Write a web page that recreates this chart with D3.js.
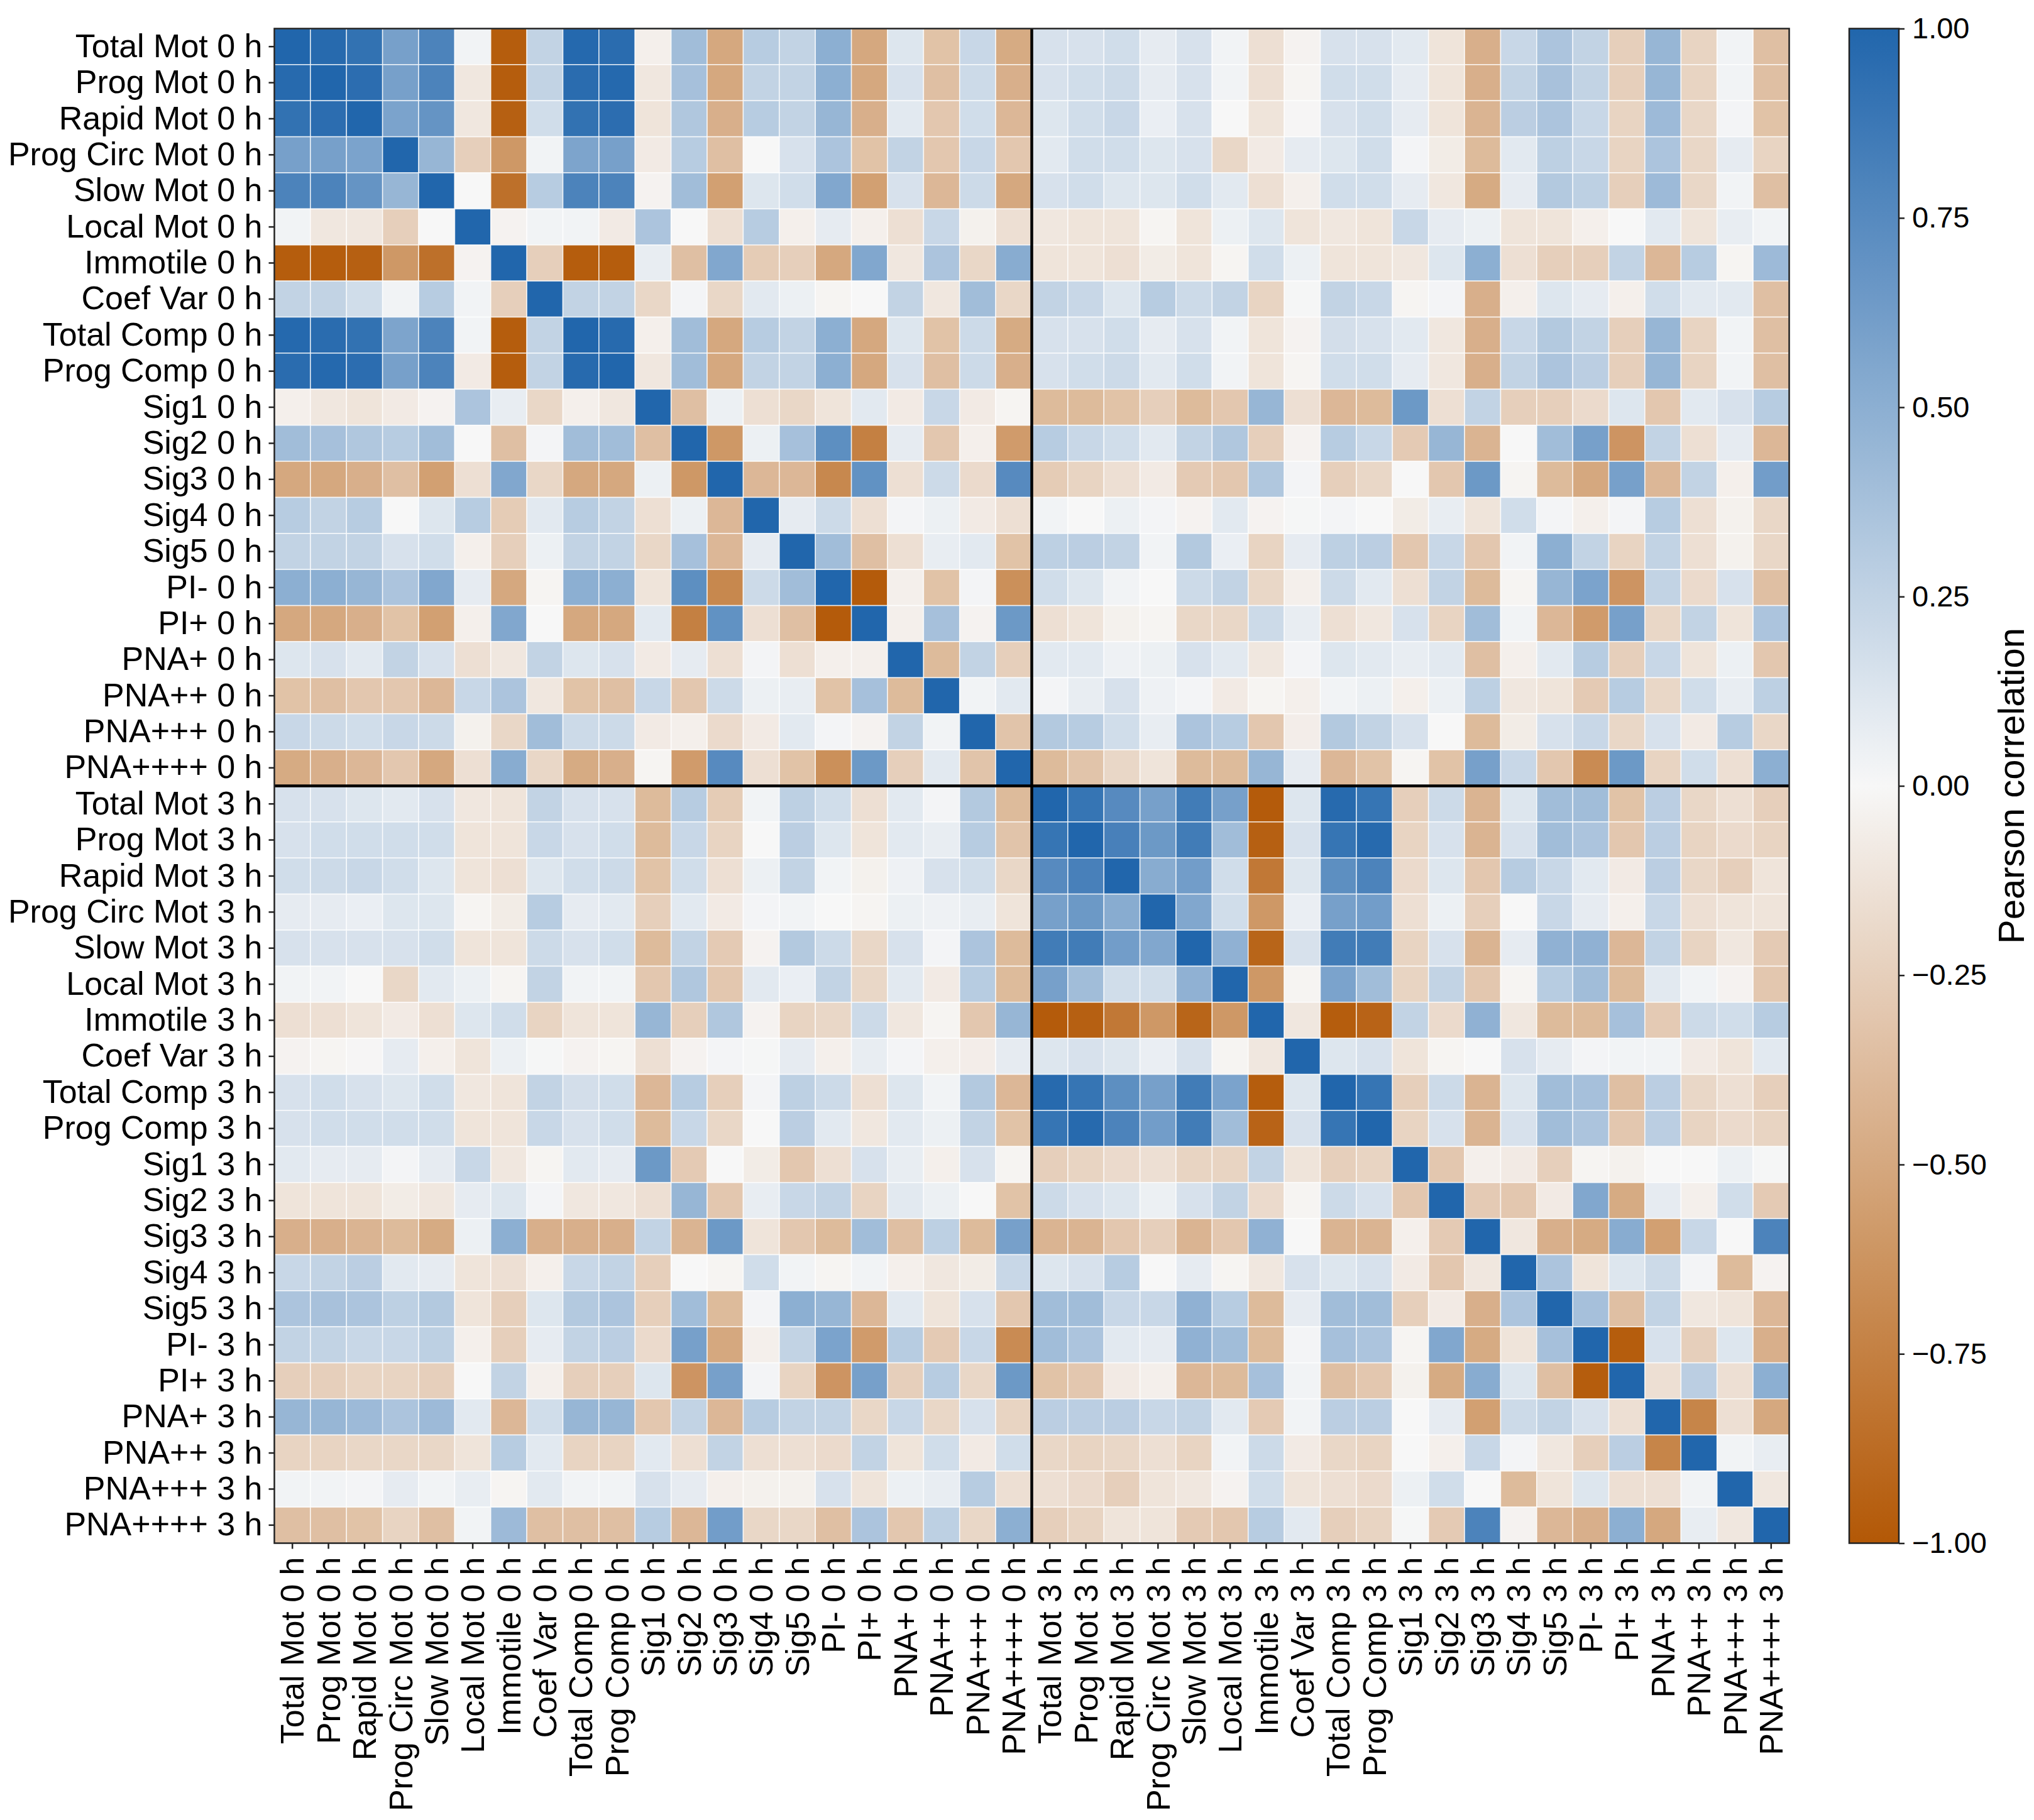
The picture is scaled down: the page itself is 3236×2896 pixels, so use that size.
<!DOCTYPE html>
<html lang="en">
<head>
<meta charset="utf-8">
<script src="https://cdn.jsdelivr.net/npm/d3@7"></script>
<style>
  body { margin: 0; background: #fff; }
  text { font-family: "Liberation Sans", Arial, sans-serif; fill: #000; }
  .axis line { stroke: #222; stroke-width: 2.5; }
</style>
</head>
<body>
<script>
// variable names and the two time points
const variables = ["Total Mot", "Prog Mot", "Rapid Mot", "Prog Circ Mot", "Slow Mot", "Local Mot",
  "Immotile", "Coef Var", "Total Comp", "Prog Comp", "Sig1", "Sig2", "Sig3", "Sig4", "Sig5",
  "PI-", "PI+", "PNA+", "PNA++", "PNA+++", "PNA++++"];
const times = ["0 h", "3 h"];
const cbarTicks = [-1, -0.75, -0.5, -0.25, 0, 0.25, 0.5, 0.75, 1];

// lower triangle of the 0 h x 0 h block (row i, columns 0..i-1)
const corr0h = [
  [],
  [0.97],
  [0.92, 0.95],
  [0.6, 0.6, 0.58],
  [0.8, 0.8, 0.68, 0.45],
  [0.03, -0.1, -0.1, -0.25, 0.0],
  [-0.97, -0.97, -0.95, -0.6, -0.85, -0.03],
  [0.25, 0.25, 0.18, 0.03, 0.3, 0.03, -0.25],
  [0.98, 0.96, 0.92, 0.57, 0.8, 0.03, -0.97, 0.25],
  [0.96, 0.98, 0.95, 0.6, 0.8, -0.08, -0.97, 0.25, 0.97],
  [-0.05, -0.1, -0.12, -0.08, -0.03, 0.35, 0.07, -0.2, -0.05, -0.1],
  [0.4, 0.38, 0.33, 0.3, 0.4, 0.0, -0.35, 0.02, 0.4, 0.4, -0.35],
  [-0.5, -0.5, -0.45, -0.35, -0.55, -0.15, 0.55, -0.2, -0.5, -0.5, 0.05, -0.6],
  [0.3, 0.25, 0.3, 0.0, 0.12, 0.3, -0.27, 0.1, 0.3, 0.25, -0.15, 0.05, -0.4],
  [0.25, 0.25, 0.25, 0.15, 0.18, -0.05, -0.25, 0.05, 0.25, 0.25, -0.2, 0.38, -0.4, 0.08],
  [0.5, 0.5, 0.45, 0.35, 0.55, 0.08, -0.5, -0.02, 0.5, 0.5, -0.12, 0.72, -0.7, 0.2, 0.4],
  [-0.5, -0.5, -0.45, -0.33, -0.55, -0.05, 0.55, 0.0, -0.5, -0.5, 0.1, -0.75, 0.7, -0.15, -0.35, -0.98],
  [0.12, 0.15, 0.1, 0.25, 0.15, -0.15, -0.1, 0.25, 0.12, 0.15, -0.08, 0.08, -0.15, 0.02, -0.15, -0.05, -0.05],
  [-0.33, -0.35, -0.3, -0.3, -0.4, 0.22, 0.35, -0.1, -0.33, -0.35, 0.22, -0.3, 0.2, 0.05, 0.07, -0.33, 0.38, -0.38],
  [0.22, 0.2, 0.18, 0.22, 0.2, -0.04, -0.2, 0.4, 0.2, 0.2, -0.08, -0.05, -0.18, -0.08, 0.1, 0.02, -0.03, 0.25, 0.03],
  [-0.48, -0.45, -0.4, -0.3, -0.5, -0.15, 0.52, -0.2, -0.48, -0.45, -0.02, -0.58, 0.75, -0.15, -0.33, -0.65, 0.65, -0.25, 0.1, -0.32]
];

// lower triangle of the 3 h x 3 h block
const corr3h = [
  [],
  [0.9],
  [0.75, 0.82],
  [0.6, 0.65, 0.52],
  [0.85, 0.85, 0.62, 0.55],
  [0.6, 0.4, 0.18, 0.18, 0.48],
  [-0.98, -0.95, -0.8, -0.6, -0.92, -0.6],
  [0.12, 0.15, 0.12, 0.06, 0.15, -0.02, -0.1],
  [0.97, 0.9, 0.72, 0.6, 0.85, 0.58, -0.97, 0.12],
  [0.9, 0.97, 0.8, 0.62, 0.85, 0.4, -0.93, 0.15, 0.9],
  [-0.25, -0.22, -0.18, -0.15, -0.22, -0.22, 0.25, -0.12, -0.25, -0.22],
  [0.2, 0.15, 0.12, 0.05, 0.15, 0.25, -0.18, -0.02, 0.2, 0.15, -0.3],
  [-0.42, -0.42, -0.3, -0.25, -0.42, -0.3, 0.48, 0.0, -0.42, -0.42, -0.05, -0.28],
  [0.12, 0.15, 0.3, 0.0, 0.08, -0.02, -0.1, 0.15, 0.12, 0.15, -0.08, -0.3, -0.1],
  [0.4, 0.4, 0.22, 0.22, 0.48, 0.3, -0.38, 0.08, 0.4, 0.4, -0.25, -0.08, -0.45, 0.35],
  [0.4, 0.35, 0.1, 0.08, 0.48, 0.4, -0.38, 0.02, 0.38, 0.35, -0.02, 0.55, -0.48, -0.12, 0.38],
  [-0.33, -0.3, -0.08, -0.05, -0.4, -0.38, 0.38, 0.03, -0.35, -0.3, -0.04, -0.48, 0.52, 0.12, -0.35, -0.97],
  [0.28, 0.28, 0.28, 0.22, 0.25, 0.1, -0.28, 0.03, 0.28, 0.28, 0.0, 0.08, -0.55, 0.2, 0.25, 0.15, -0.15],
  [-0.2, -0.22, -0.2, -0.15, -0.22, 0.03, 0.2, -0.08, -0.2, -0.22, 0.0, -0.05, 0.22, 0.02, -0.1, -0.25, 0.28, -0.72],
  [-0.15, -0.18, -0.25, -0.12, -0.1, -0.03, 0.18, -0.12, -0.15, -0.18, 0.05, 0.18, 0.0, -0.38, -0.12, 0.12, -0.15, -0.15, 0.03],
  [-0.25, -0.22, -0.12, -0.12, -0.28, -0.3, 0.3, 0.1, -0.25, -0.22, 0.01, -0.28, 0.8, -0.03, -0.4, -0.45, 0.5, -0.5, 0.07, -0.1]
];

// cross block: rows = 3 h variables, columns = 0 h variables
const cross3h0h = [
  [0.15, 0.15, 0.12, 0.1, 0.15, -0.1, -0.12, 0.25, 0.15, 0.15, -0.38, 0.3, -0.27, 0.03, 0.27, 0.18, -0.15, 0.1, 0.02, 0.32, -0.38],
  [0.15, 0.18, 0.18, 0.18, 0.18, -0.12, -0.12, 0.22, 0.15, 0.18, -0.38, 0.22, -0.22, 0.0, 0.28, 0.12, -0.12, 0.1, 0.07, 0.3, -0.32],
  [0.18, 0.2, 0.22, 0.18, 0.12, -0.12, -0.15, 0.12, 0.18, 0.2, -0.33, 0.18, -0.15, 0.05, 0.25, 0.03, -0.04, 0.04, 0.15, 0.18, -0.2],
  [0.08, 0.08, 0.06, 0.12, 0.12, -0.02, -0.07, 0.3, 0.08, 0.1, -0.25, 0.1, -0.08, 0.02, 0.03, 0.0, -0.02, 0.05, 0.04, 0.07, -0.12],
  [0.15, 0.15, 0.15, 0.15, 0.18, -0.12, -0.12, 0.2, 0.15, 0.18, -0.38, 0.25, -0.28, -0.03, 0.32, 0.2, -0.2, 0.15, 0.02, 0.35, -0.38],
  [0.03, 0.03, 0.0, -0.2, 0.1, 0.05, -0.02, 0.25, 0.03, 0.03, -0.3, 0.33, -0.3, 0.1, 0.06, 0.25, -0.2, 0.1, -0.08, 0.3, -0.38],
  [-0.15, -0.15, -0.12, -0.08, -0.15, 0.12, 0.18, -0.22, -0.12, -0.12, 0.45, -0.25, 0.33, -0.03, -0.22, -0.2, 0.2, -0.1, -0.02, -0.3, 0.45],
  [-0.03, -0.02, -0.01, 0.08, -0.05, -0.12, 0.05, 0.01, -0.03, -0.02, -0.15, -0.03, 0.02, 0.01, 0.08, -0.05, 0.07, 0.02, -0.05, -0.06, 0.08],
  [0.15, 0.18, 0.15, 0.12, 0.18, -0.1, -0.12, 0.25, 0.17, 0.18, -0.4, 0.3, -0.25, 0.02, 0.27, 0.2, -0.15, 0.12, 0.03, 0.32, -0.4],
  [0.15, 0.18, 0.18, 0.18, 0.18, -0.12, -0.12, 0.22, 0.15, 0.18, -0.38, 0.22, -0.2, 0.0, 0.28, 0.1, -0.1, 0.1, 0.05, 0.25, -0.33],
  [0.1, 0.08, 0.08, 0.02, 0.08, 0.22, -0.1, -0.02, 0.1, 0.08, 0.65, -0.28, 0.0, -0.07, -0.3, -0.15, 0.15, 0.07, -0.05, 0.15, -0.02],
  [-0.12, -0.12, -0.12, -0.07, -0.1, 0.08, 0.12, 0.02, -0.1, -0.1, -0.15, 0.45, -0.3, 0.07, 0.22, 0.25, -0.22, 0.1, 0.05, 0.0, -0.33],
  [-0.45, -0.45, -0.42, -0.38, -0.48, 0.05, 0.5, -0.45, -0.45, -0.45, 0.25, -0.42, 0.65, -0.12, -0.3, -0.38, 0.4, -0.35, 0.27, -0.38, 0.6],
  [0.22, 0.25, 0.28, 0.1, 0.08, -0.12, -0.15, -0.05, 0.22, 0.25, -0.25, 0.0, -0.02, 0.18, 0.03, -0.02, 0.03, -0.05, -0.1, -0.07, 0.22],
  [0.35, 0.37, 0.35, 0.27, 0.32, -0.12, -0.25, 0.12, 0.32, 0.35, -0.25, 0.4, -0.38, 0.02, 0.5, 0.45, -0.4, 0.1, -0.12, 0.15, -0.3],
  [0.25, 0.25, 0.22, 0.22, 0.27, -0.05, -0.25, 0.08, 0.25, 0.28, -0.18, 0.6, -0.5, -0.05, 0.25, 0.58, -0.58, 0.3, -0.28, 0.22, -0.68],
  [-0.25, -0.25, -0.22, -0.22, -0.25, 0.0, 0.25, -0.05, -0.25, -0.25, 0.12, -0.62, 0.6, 0.02, -0.22, -0.62, 0.6, -0.25, 0.3, -0.2, 0.65],
  [0.45, 0.45, 0.42, 0.35, 0.42, 0.1, -0.4, 0.18, 0.45, 0.45, -0.3, 0.25, -0.4, 0.3, 0.25, 0.25, -0.2, 0.22, -0.2, 0.15, -0.22],
  [-0.22, -0.22, -0.2, -0.2, -0.2, -0.12, 0.3, 0.1, -0.22, -0.22, 0.1, -0.15, 0.25, -0.15, -0.15, -0.18, 0.25, -0.12, 0.18, -0.08, 0.18],
  [0.03, 0.03, 0.02, 0.08, 0.03, 0.07, -0.02, 0.1, 0.03, 0.03, 0.15, 0.08, -0.05, -0.04, -0.04, 0.15, -0.12, 0.05, 0.07, 0.3, -0.15],
  [-0.35, -0.35, -0.33, -0.22, -0.35, 0.03, 0.42, -0.35, -0.35, -0.35, 0.3, -0.4, 0.62, -0.2, -0.2, -0.35, 0.35, -0.3, 0.27, -0.2, 0.5]
];

// full symmetric matrix from the three blocks
const labels = times.flatMap(t => variables.map(v => v + " " + t));
const n = labels.length, h = variables.length;
function corr(i, j) {
  if (i === j) return 1;
  if (i < j) return corr(j, i);
  if (i < h) return corr0h[i][j];
  if (j >= h) return corr3h[i - h][j - h];
  return cross3h0h[i - h][j];
}
const cells = [];
for (let i = 0; i < n; i++)
  for (let j = 0; j < n; j++)
    cells.push({ row: i, col: j, value: corr(i, j) });

const width = 3236, height = 2896;
const svg = d3.select("body").append("svg")
  .attr("width", width)
  .attr("height", height);

const mLeft = 436.5, mTop = 45.5, size = 2410;

const x = d3.scaleBand().domain(d3.range(n)).range([mLeft, mLeft + size]);
const y = d3.scaleBand().domain(d3.range(n)).range([mTop, mTop + size]);

const color = d3.scaleLinear()
  .domain([-1, 0, 1])
  .range(["#b35806", "#f7f7f7", "#2166ac"]);

svg.append("g").selectAll("rect")
  .data(cells)
  .enter()
  .append("rect")
  .attr("x", d => x(d.col))
  .attr("y", d => y(d.row))
  .attr("width", x.bandwidth())
  .attr("height", y.bandwidth())
  .attr("fill", d => color(d.value))
  .attr("stroke", "rgba(255,255,255,0.75)")
  .attr("stroke-width", 1.6);

// separators between 0 h and 3 h blocks
svg.append("line")
  .attr("x1", x(h)).attr("x2", x(h))
  .attr("y1", mTop).attr("y2", mTop + size)
  .attr("stroke", "#000").attr("stroke-width", 4.5);
svg.append("line")
  .attr("x1", mLeft).attr("x2", mLeft + size)
  .attr("y1", y(h)).attr("y2", y(h))
  .attr("stroke", "#000").attr("stroke-width", 4.5);

svg.append("rect")
  .attr("x", mLeft).attr("y", mTop)
  .attr("width", size).attr("height", size)
  .attr("fill", "none").attr("stroke", "#222").attr("stroke-width", 2.5);

// y axis labels
const yAxis = svg.append("g")
  .attr("class", "axis")
  .attr("transform", `translate(${mLeft},0)`)
  .call(d3.axisLeft(y).tickFormat(i => labels[i]).tickSize(9).tickPadding(10));
yAxis.select(".domain").remove();
yAxis.selectAll("text").style("font-size", "52px").attr("fill", "#000");

// x axis labels, rotated
const xAxis = svg.append("g")
  .attr("class", "axis")
  .attr("transform", `translate(0,${mTop + size})`)
  .call(d3.axisBottom(x).tickFormat(i => labels[i]).tickSize(9));
xAxis.select(".domain").remove();
xAxis.selectAll("text")
  .style("font-size", "52px")
  .attr("fill", "#000")
  .attr("transform", "rotate(-90)")
  .attr("text-anchor", "end")
  .attr("x", -22)
  .attr("y", 0)
  .attr("dy", "0.35em");

// colorbar
const cbX = 2942, cbW = 79;
const cy = d3.scaleLinear().domain([-1, 1]).range([mTop + size, mTop]);

const grad = svg.append("defs").append("linearGradient")
  .attr("id", "cbar")
  .attr("x1", 0).attr("y1", 1).attr("x2", 0).attr("y2", 0);
grad.selectAll("stop")
  .data(d3.range(0, 1.0001, 0.05))
  .enter()
  .append("stop")
  .attr("offset", d => d)
  .attr("stop-color", d => color(d * 2 - 1));

svg.append("rect")
  .attr("x", cbX).attr("y", mTop)
  .attr("width", cbW).attr("height", size)
  .attr("fill", "url(#cbar)")
  .attr("stroke", "#222").attr("stroke-width", 2.5);

const cAxis = svg.append("g")
  .attr("class", "axis")
  .attr("transform", `translate(${cbX + cbW},0)`)
  .call(d3.axisRight(cy).tickValues(cbarTicks).tickFormat(d3.format(".2f")).tickSize(9).tickPadding(12));
cAxis.select(".domain").remove();
cAxis.selectAll("text").style("font-size", "47px").attr("fill", "#000");

svg.append("text")
  .attr("transform", `translate(3220,${mTop + size / 2}) rotate(-90)`)
  .attr("text-anchor", "middle")
  .style("font-size", "58px")
  .text("Pearson correlation");
</script>
</body>
</html>
